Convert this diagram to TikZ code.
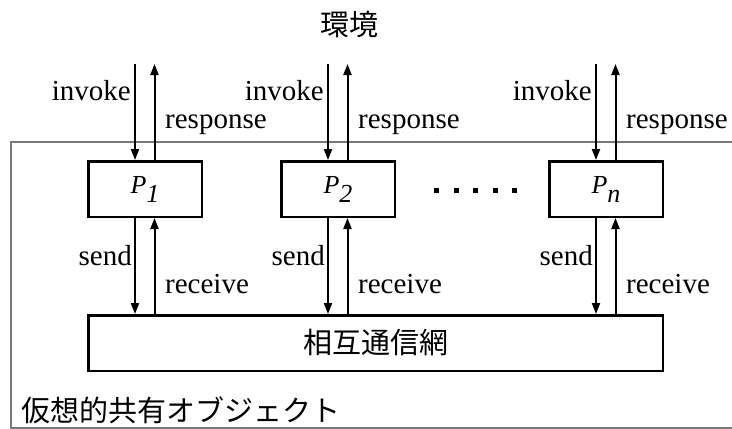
\documentclass[tikz,border=0pt]{standalone}
\usepackage{fontspec}
\setmainfont{Liberation Serif}
\newfontfamily\cjk{Noto Sans CJK JP}
\usetikzlibrary{arrows.meta}
\definecolor{framegray}{RGB}{120,120,120}
\begin{document}
\begin{tikzpicture}[x=1pt,y=-1pt,
  proc/.style={draw, line width=2.5pt, minimum width=113.5pt, minimum height=55.5pt, inner sep=0pt, font=\fontsize{26}{26}\selectfont},
  arr/.style={line width=2pt, -{Triangle[length=11pt,width=8pt]}},
  lbl/.style={font=\fontsize{29}{29}\selectfont, inner sep=0pt},
  cjkf/.style={font=\cjk\fontsize{29}{29}\selectfont, inner sep=0pt}]
\useasboundingbox (0,0) rectangle (732,429);
\draw[line width=1.3pt, framegray] (11,142) rectangle (760,428);
\node[cjkf] (env) at (349,24) {環境};
\node[draw, line width=2.5pt, minimum width=574.5pt, minimum height=55.5pt, cjkf] (net) at (375.5,343) {相互通信網};
\node[cjkf, anchor=west] (obj) at (21,410) {仮想的共有オブジェクト};
\foreach \n/\cx/\sub in {1/145/1,2/338/2,n/606/n} {
  \node[proc] (p\n) at (\cx,189) {\textit{P}\raisebox{-9pt}{\textit{\sub}}};
  \coordinate (ti\n) at (\cx-10,64);
  \coordinate (tr\n) at (\cx+9.5,64);
  \draw[arr] (ti\n) -- (ti\n |- p\n.north);
  \draw[arr] (tr\n |- p\n.north) -- (tr\n);
  \draw[arr] (p\n.south -| ti\n) -- (ti\n |- net.north);
  \draw[arr] (tr\n |- net.north) -- (p\n.south -| tr\n);
  \node[lbl, anchor=base east] (inv\n) at (\cx-14,100.5) {invoke};
  \node[lbl, anchor=base west] (res\n) at (\cx+20,128) {response};
  \node[lbl, anchor=base east] (snd\n) at (\cx-13,265) {send};
  \node[lbl, anchor=base west] (rcv\n) at (\cx+20,293) {receive};
}
\foreach \i in {0,...,4} \fill (434+\i*19.5,187.5) rectangle ++(5,5);
\end{tikzpicture}
\end{document}
